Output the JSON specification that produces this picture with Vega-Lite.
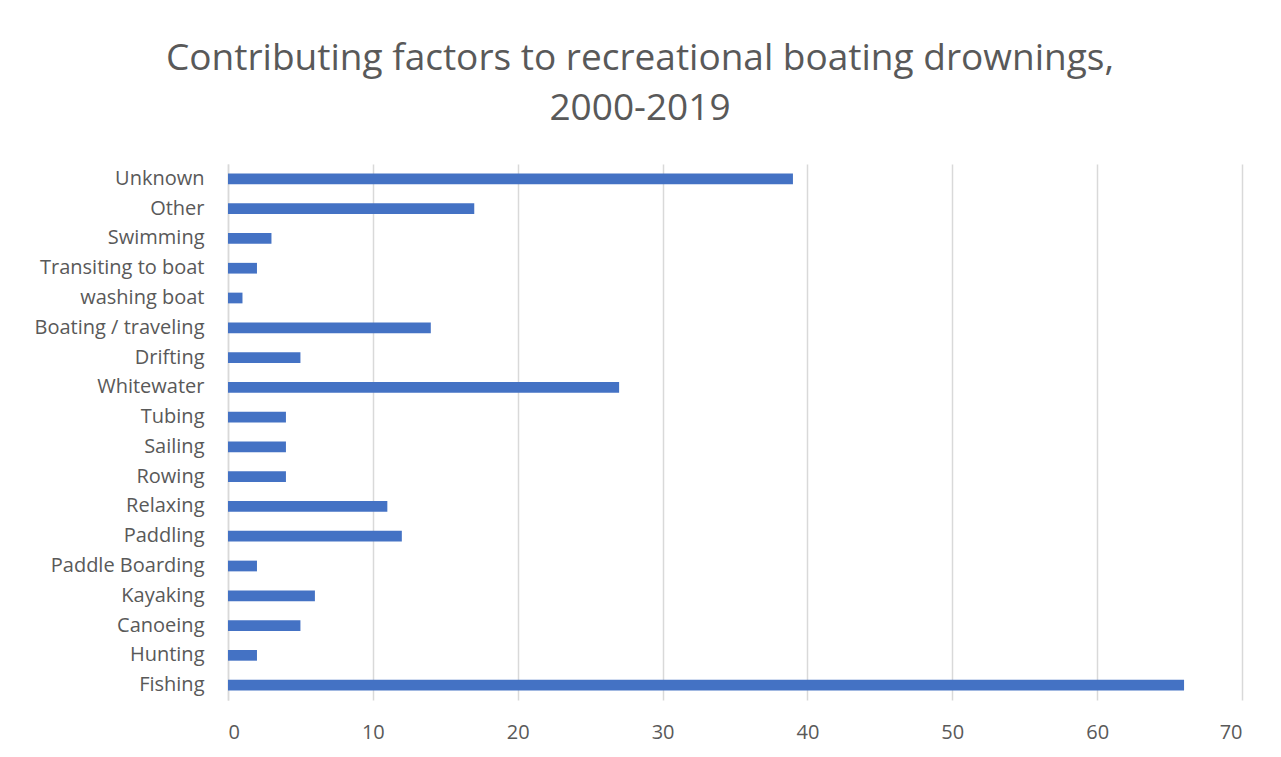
{
  "$schema": "https://vega.github.io/schema/vega-lite/v6.json",
  "width": 1014,
  "height": 536,
  "autosize": "none",
  "padding": {"left": 228, "top": 164, "right": 39, "bottom": 57},
  "background": "white",
  "title": {
    "text": ["Contributing factors to recreational boating drownings,", "2000-2019"],
    "font": "Open Sans",
    "fontSize": 37,
    "fontWeight": "normal",
    "color": "#595959",
    "anchor": "middle",
    "dx": -95,
    "lineHeight": 50,
    "offset": 36
  },
  "data": {
    "values": [
      {"factor": "Unknown", "count": 39},
      {"factor": "Other", "count": 17},
      {"factor": "Swimming", "count": 3},
      {"factor": "Transiting to boat", "count": 2},
      {"factor": "washing boat", "count": 1},
      {"factor": "Boating / traveling", "count": 14},
      {"factor": "Drifting", "count": 5},
      {"factor": "Whitewater", "count": 27},
      {"factor": "Tubing", "count": 4},
      {"factor": "Sailing", "count": 4},
      {"factor": "Rowing", "count": 4},
      {"factor": "Relaxing", "count": 11},
      {"factor": "Paddling", "count": 12},
      {"factor": "Paddle Boarding", "count": 2},
      {"factor": "Kayaking", "count": 6},
      {"factor": "Canoeing", "count": 5},
      {"factor": "Hunting", "count": 2},
      {"factor": "Fishing", "count": 66}
    ]
  },
  "mark": {"type": "bar", "color": "#4472C4"},
  "encoding": {
    "y": {
      "field": "factor",
      "type": "nominal",
      "sort": null,
      "scale": {"paddingInner": 0.64, "paddingOuter": 0.32},
      "axis": {
        "title": null,
        "ticks": false,
        "domain": true,
        "domainColor": "#d9d9d9",
        "domainWidth": 1.5,
        "labelFont": "Open Sans",
        "labelFontSize": 20,
        "labelColor": "#595959",
        "labelPadding": 24,
        "grid": false
      }
    },
    "x": {
      "field": "count",
      "type": "quantitative",
      "scale": {"domain": [0, 70], "nice": false},
      "axis": {
        "title": null,
        "values": [0, 10, 20, 30, 40, 50, 60, 70],
        "ticks": false,
        "domain": false,
        "grid": true,
        "gridColor": "#d9d9d9",
        "gridWidth": 1.5,
        "labelFont": "Open Sans",
        "labelFontSize": 20,
        "labelColor": "#595959",
        "labelPadding": 22
      }
    }
  },
  "config": {"view": {"stroke": null}}
}
